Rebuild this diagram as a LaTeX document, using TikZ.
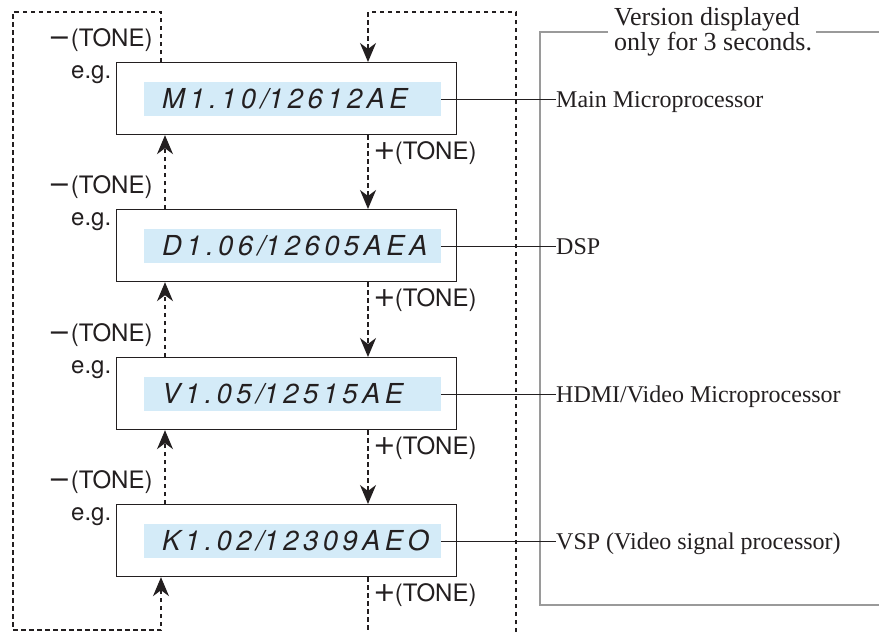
\documentclass[tikz,border=0pt]{standalone}
\usepackage{fontspec}
\setmainfont{Liberation Serif}
\newfontfamily\hv{TeX Gyre Heros}
\newfontfamily\sym{DejaVu Sans}
\newfontfamily\lcd[LetterSpace=16]{TeX Gyre Heros}
\usetikzlibrary{arrows.meta,calc}
\definecolor{lcdblue}{HTML}{D4EBF8}
\definecolor{boxgray}{HTML}{9A9A9A}
\definecolor{ink}{HTML}{231F20}
\newcommand{\bigsym}[1]{{\sym\fontsize{27}{27}\selectfont #1}}
\tikzset{
  dbox/.style={draw=ink, line width=1.2pt, minimum width=340pt, minimum height=72pt, inner sep=0pt, anchor=north west},
  lcdbg/.style={fill=lcdblue, minimum width=297pt, minimum height=34pt, inner sep=0pt, anchor=west},
  lcdtext/.style={font=\lcd\itshape\fontsize{27.5}{27.5}\selectfont, anchor=base west, inner sep=0pt, text=ink},
  tone/.style={font=\hv\fontsize{24}{24}\selectfont, inner sep=0pt, anchor=west, text=ink},
  lab/.style={font=\fontsize{24}{24}\selectfont, inner sep=0pt, anchor=base west, text=ink},
  hdr/.style={font=\fontsize{26}{21}\selectfont, inner sep=0pt, anchor=north west, align=left, text=ink},
  dsh/.style={draw=ink, line width=1.2pt, dash pattern=on 4.5pt off 3.5pt},
  arr/.style={-{Stealth[length=19pt,width=16pt,inset=6pt]}},
  lead/.style={draw=ink, line width=1pt},
}
\begin{document}
\begin{tikzpicture}[x=1pt,y=-1pt]
\useasboundingbox (0,0) rectangle (879,632);
% x guides
\coordinate (lx) at (161,0);
\coordinate (ux) at (165,0);
\coordinate (rx) at (368,0);
% boxes
\foreach \i/\t/\code/\name in {1/62/{M1.10\slash 12612AE}/{Main Microprocessor},
                               2/209/{D1.06\slash 12605AEA}/{DSP},
                               3/357/{V1.05\slash 12515AE}/{HDMI/Video Microprocessor},
                               4/504/{K1.02\slash 12309AEO}/{VSP (Video signal processor)}}{
  \node[dbox] (b\i) at (116,\t) {};
  \node[lcdbg] (c\i) at (144,\t+37) {};
  \node[lcdtext] (t\i) at (162,\t+46) {\code};
  \node[tone] (m\i) at (48,\t-22) {\bigsym{−}\kern0pt(TONE)};
  \node[tone] (e\i) at (71,\t+13) {e.g.};
  \node[tone] (p\i) at (373,\t+91) {\bigsym{+}\kern-1pt(TONE)};
  \node[lab] (l\i) at (556,\t+45) {\name};
}
% gray frame
\draw[boxgray, line width=1.5pt] (608,32) -- (540,32) -- (540,605) -- (885,605);
\draw[boxgray, line width=1.5pt] (816,32) -- (885,32);
\node[hdr] (h) at (614,7) {Version displayed\\only for 3 seconds.};
% leader lines
\foreach \i in {1,...,4}{
  \draw[lead] (c\i.east) -- (c\i.east -| l\i.west);
}
% arrows between boxes
\foreach \i/\j in {1/2,2/3,3/4}{
  \draw[dsh,arr] (b\i.south -| rx) -- (b\j.north -| rx);
  \draw[dsh,arr] (b\j.north -| ux) -- (b\i.south -| ux);
}
% left loop
\coordinate (ltr) at (161,12);
\coordinate (ltl) at (13,12);
\coordinate (lbl) at (13,630);
\coordinate (lbr) at (161,630);
\draw[dsh,arr] (b1.north -| lx) -- (ltr) -- (ltl) -- (lbl) -- (lbr) -- (b4.south -| lx);
% right loop
\coordinate (rbot) at (368,632);
\coordinate (rrb) at (516,632);
\coordinate (rrt) at (516,12);
\coordinate (rlt) at (368,12);
\draw[dsh] (b4.south -| rx) -- (rbot);
\draw[dsh,arr] (rrb) -- (rrt) -- (rlt) -- (b1.north -| rx);
\end{tikzpicture}
\end{document}
